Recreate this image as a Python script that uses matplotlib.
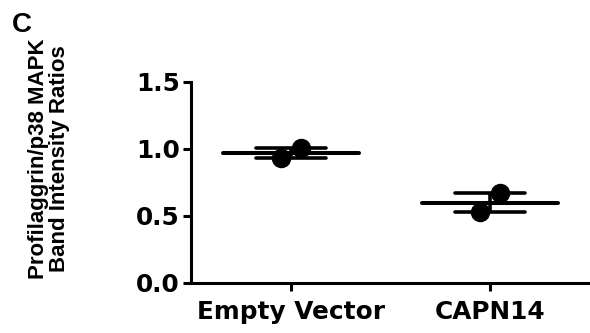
import numpy as np
import matplotlib
matplotlib.use("Agg")
import matplotlib.pyplot as plt

# band intensity ratios, two replicates per group
groups = ["Empty Vector", "CAPN14"]
empty_vector = [0.935, 1.005]
capn14 = [0.53, 0.67]
yticks = [0.0, 0.5, 1.0, 1.5]

plt.rcParams['font.family'] = ['Liberation Sans', 'DejaVu Sans']
plt.rcParams['font.weight'] = 'bold'

fig = plt.figure(figsize=(5.9, 3.33), dpi=100)
ax = fig.add_axes([0.3237, 0.1502, 0.6763, 0.6036])

jitter = [-0.05, 0.05]
for i, vals in enumerate([empty_vector, capn14]):
    vals = np.sort(vals)
    m = np.mean(vals)
    sem = np.std(vals, ddof=1) / np.sqrt(len(vals))
    # mean line
    ax.hlines(m, i - 0.34, i + 0.34, color='black', lw=2.9, capstyle='round', zorder=3)
    # sem caps + stem
    ax.hlines([m - sem, m + sem], i - 0.175, i + 0.175, color='black', lw=2.6,
              capstyle='round', zorder=3)
    ax.vlines(i, m - sem, m + sem, color='black', lw=2.6, zorder=3)
    ax.plot(i + np.array(jitter), vals, 'o', color='black', ms=13, zorder=4,
            clip_on=False)

# reference text looks like stretched Arial, DejaVu bold is closer in footprint
tick_font = dict(family='DejaVu Sans', fontsize=17.8, fontweight='bold')
ax.set_xlim(-0.5, 1.5)
ax.set_ylim(0, 1.5)
ax.set_xticks(range(len(groups)))
ax.set_xticklabels(groups, **tick_font)
ax.set_yticks(yticks)
ax.set_yticklabels([f"{v:.1f}" for v in yticks], **tick_font)
ax.set_ylabel("Profilaggrin/p38 MAPK\nBand Intensity Ratios", family='Liberation Sans',
              fontsize=16, fontweight='bold', linespacing=1.0)
ax.yaxis.set_label_coords(-0.303, 0.617)

for side in ['top', 'right']:
    ax.spines[side].set_visible(False)
for side in ['left', 'bottom']:
    ax.spines[side].set_linewidth(2.2)
ax.tick_params(width=2.2, length=6)
ax.tick_params(axis='y', pad=2)
ax.tick_params(axis='x', pad=6)

fig.text(0.02, 0.964, "C", fontsize=20, fontweight='bold', va='top')

fig.savefig("out.png", dpi=100)
